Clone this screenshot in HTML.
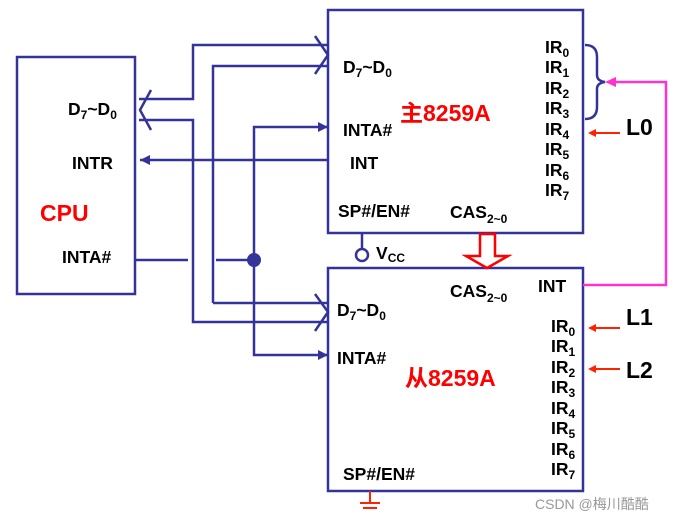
<!DOCTYPE html>
<html><head><style>body{margin:0;background:#fff}svg{display:block}text{font-family:"Liberation Sans","Noto Sans CJK SC",sans-serif;font-weight:bold;font-size:17.5px;fill:#000}.s{font-size:12px}</style></head><body>
<svg width="687" height="522" viewBox="0 0 687 522" xmlns="http://www.w3.org/2000/svg">
<g fill="none" stroke="#333399" stroke-width="2.5">
<rect x="17" y="57" width="118" height="237"/>
<rect x="328" y="10" width="255" height="223"/>
<rect x="328" y="268" width="255" height="223"/>
<polyline points="139,99 193,99 193,45 328,45"/>
<polyline points="139,120 193,120 193,322 328,322"/>
<polyline points="213,303 213,66 328,66"/>
<line x1="213" y1="303" x2="328" y2="303"/>
<polyline points="151,90 140,110 151,130"/>
<polyline points="315,36 328,55 315,74"/>
<polyline points="315,294 328,312 315,331"/>
<polyline points="328,127 254,127 254,355 328,355"/>
<line x1="140" y1="160" x2="328" y2="160"/>
<line x1="135" y1="260" x2="188" y2="260"/>
<line x1="216" y1="260" x2="254" y2="260"/>
<line x1="362" y1="233" x2="362" y2="249"/>
<circle cx="362" cy="255" r="6"/>
<path d="M585,45 q12,0 12,12 v18 q0,6 8,7 q-8,1 -8,7 v18 q0,12 -12,12"/>
</g>
<g fill="#333399">
<polygon points="328,127 318,122 318,132"/>
<polygon points="328,355 318,350 318,360"/>
<polygon points="140,160 150,155 150,165"/>
<circle cx="254" cy="260" r="7"/>
</g>
<polyline points="583,285 666,285 666,82 608,82" fill="none" stroke="#ff33cc" stroke-width="2.5"/>
<polygon points="605,82 616,77 616,87" fill="#ff33cc"/>
<polygon points="480,234 495,234 495,256 508,256 487,268 466,256 480,256" fill="#fff" stroke="#ff0000" stroke-width="2.5"/>
<g stroke="#ff2200" stroke-width="2">
<line x1="620" y1="133" x2="592" y2="133"/><line x1="620" y1="328" x2="592" y2="328"/><line x1="620" y1="369" x2="592" y2="369"/>
<line x1="370" y1="491" x2="370" y2="503"/><line x1="360" y1="503" x2="380" y2="503"/><line x1="363" y1="508" x2="377" y2="508"/>
</g>
<g fill="#ff2200"><polygon points="588,133 596,129 596,137"/><polygon points="588,328 596,324 596,332"/><polygon points="588,369 596,365 596,373"/></g>
<text x="68" y="115">D<tspan class="s" dy="4">7</tspan><tspan dy="-4">~D</tspan><tspan class="s" dy="4">0</tspan></text>
<text x="72" y="169">INTR</text>
<text x="40" y="221" style="fill:#ff0000;font-size:23px">CPU</text>
<text x="62" y="263">INTA#</text>
<text x="343" y="73">D<tspan class="s" dy="4">7</tspan><tspan dy="-4">~D</tspan><tspan class="s" dy="4">0</tspan></text>
<text x="343" y="136">INTA#</text>
<text x="350" y="169">INT</text>
<text x="400" y="121" style="fill:#ff0000;font-size:23px">主8259A</text>
<text x="338" y="217">SP#/EN#</text>
<text x="450" y="218">CAS<tspan class="s" dy="5">2~0</tspan></text>
<text x="376" y="259">V<tspan class="s" dy="3">CC</tspan></text>
<text x="450" y="297">CAS<tspan class="s" dy="5">2~0</tspan></text>
<text x="538" y="292">INT</text>
<text x="337" y="316">D<tspan class="s" dy="4">7</tspan><tspan dy="-4">~D</tspan><tspan class="s" dy="4">0</tspan></text>
<text x="337" y="364">INTA#</text>
<text x="405" y="386" style="fill:#ff0000;font-size:23px">从8259A</text>
<text x="343" y="480">SP#/EN#</text>
<g>
<text x="545" y="53">IR<tspan class="s" dy="4">0</tspan></text>
<text x="545" y="73">IR<tspan class="s" dy="4">1</tspan></text>
<text x="545" y="94">IR<tspan class="s" dy="4">2</tspan></text>
<text x="545" y="114">IR<tspan class="s" dy="4">3</tspan></text>
<text x="545" y="135">IR<tspan class="s" dy="4">4</tspan></text>
<text x="545" y="155">IR<tspan class="s" dy="4">5</tspan></text>
<text x="545" y="176">IR<tspan class="s" dy="4">6</tspan></text>
<text x="545" y="196">IR<tspan class="s" dy="4">7</tspan></text>
<text x="551" y="332">IR<tspan class="s" dy="4">0</tspan></text>
<text x="551" y="352">IR<tspan class="s" dy="4">1</tspan></text>
<text x="551" y="373">IR<tspan class="s" dy="4">2</tspan></text>
<text x="551" y="393">IR<tspan class="s" dy="4">3</tspan></text>
<text x="551" y="414">IR<tspan class="s" dy="4">4</tspan></text>
<text x="551" y="434">IR<tspan class="s" dy="4">5</tspan></text>
<text x="551" y="455">IR<tspan class="s" dy="4">6</tspan></text>
<text x="551" y="475">IR<tspan class="s" dy="4">7</tspan></text>
</g>
<text x="626" y="135" style="font-size:23px">L0</text>
<text x="626" y="325" style="font-size:23px">L1</text>
<text x="626" y="378" style="font-size:23px">L2</text>
<text x="535" y="509" style="font-weight:normal;font-size:14px;fill:#999">CSDN @梅川酷酷</text>
</svg>
</body></html>
